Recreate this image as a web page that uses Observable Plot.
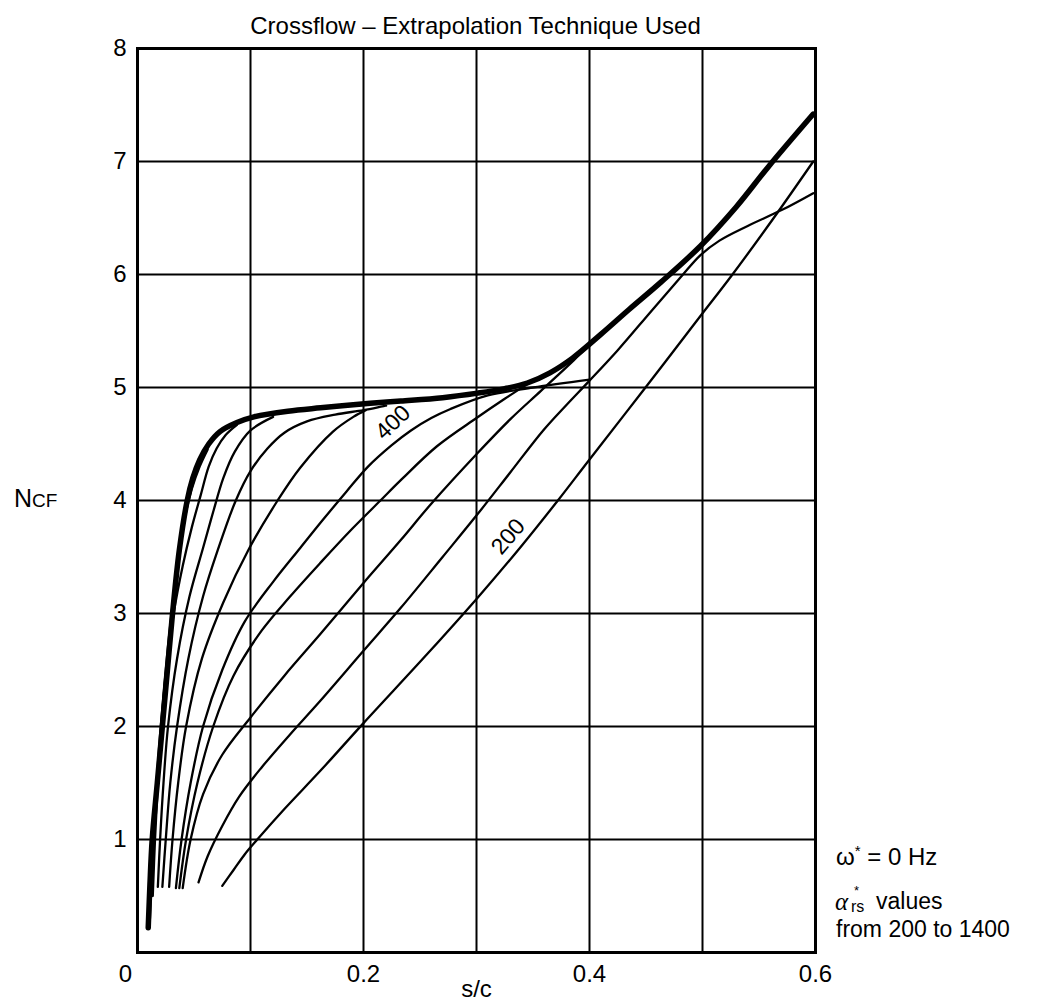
<!DOCTYPE html>
<html><head><meta charset="utf-8">
<script src="https://cdn.jsdelivr.net/npm/d3@7"></script>
<script src="https://cdn.jsdelivr.net/npm/@observablehq/plot@0.6"></script>
<style>
body{margin:0;background:#fff;font-family:"Liberation Sans",Arial,Helvetica,sans-serif;}
#wrap{position:relative;width:1038px;height:1007px;overflow:hidden;}
#wrap svg{position:absolute;left:0;top:0;}
.t{position:absolute;color:#000;white-space:nowrap;}
</style></head><body>
<div id="wrap">
  <div class="t" style="left:0;width:951px;text-align:center;top:14px;font-size:24px;line-height:24px;">Crossflow – Extrapolation Technique Used</div>
  <div class="t" style="left:14px;top:486px;font-size:25px;line-height:25px;">N<span style="font-size:19px;">CF</span></div>
  <div class="t" style="left:836px;top:845px;font-size:24px;line-height:24px;">ω<span style="font-size:15px;position:relative;top:-9px;">*</span> = 0 Hz</div>
  <div class="t" style="left:835px;top:889px;font-size:25px;line-height:25px;font-family:'Liberation Serif',serif;font-style:italic;">α</div>
  <div class="t" style="left:854px;top:884px;font-size:13px;line-height:13px;">*</div>
  <div class="t" style="left:851px;top:899px;font-size:16px;line-height:16px;">rs</div>
  <div class="t" style="left:876px;top:890px;font-size:23px;line-height:23px;">values</div>
  <div class="t" style="left:836px;top:918px;font-size:23px;line-height:23px;">from 200 to 1400</div>
</div>
<script>
// axis ticks and grid
const xTickVals = [0.2, 0.4, 0.6];
const xOriginTick = [0];
const yTickVals = [1, 2, 3, 4, 5, 6, 7, 8];
const xGridVals = [0.1, 0.2, 0.3, 0.4, 0.5];
const yGridVals = [1, 2, 3, 4, 5, 6, 7];

// envelope (thick curve), [s/c, N]
const envelope = [[0.0095,0.22],[0.011,0.6],[0.013,1.0],[0.0175,1.5],[0.022,2.0],[0.0265,2.5],[0.031,3.0],[0.037,3.56],[0.044,4.0],[0.049,4.2],[0.055,4.36],[0.063,4.5],[0.073,4.61],[0.088,4.69],[0.103,4.74],[0.133,4.79],[0.162,4.82],[0.206,4.86],[0.233,4.88],[0.27,4.91],[0.301,4.95],[0.325,4.99],[0.345,5.04],[0.365,5.13],[0.385,5.26],[0.41,5.47],[0.435,5.69],[0.463,5.93],[0.498,6.25],[0.53,6.6],[0.558,6.95],[0.598,7.42]];

// individual alpha*_rs curves, [s/c, N]
const curveBundle = [[0.011,0.3],[0.0125,0.7],[0.015,1.2],[0.019,1.8],[0.024,2.4],[0.029,2.9],[0.035,3.4],[0.042,3.85],[0.048,4.1],[0.055,4.3],[0.062,4.45]];
const curveA = [[0.0135,0.5],[0.0155,1.0],[0.018,1.5],[0.021,2.0],[0.026,2.55],[0.032,3.0],[0.040,3.42],[0.048,3.76],[0.056,4.05],[0.063,4.3],[0.07,4.46],[0.078,4.58],[0.088,4.67]];
const curveB = [[0.018,0.58],[0.020,1.0],[0.023,1.5],[0.027,2.0],[0.035,2.6],[0.046,3.15],[0.058,3.58],[0.067,3.9],[0.076,4.2],[0.086,4.43],[0.1,4.62],[0.12,4.74]];
const curveC = [[0.022,0.58],[0.025,1.0],[0.029,1.5],[0.035,2.0],[0.045,2.6],[0.058,3.15],[0.071,3.56],[0.087,4.0],[0.1,4.26],[0.115,4.46],[0.13,4.6],[0.15,4.7],[0.175,4.76],[0.2,4.8],[0.22,4.84]];
const curveD = [[0.028,0.58],[0.031,1.0],[0.036,1.5],[0.043,2.0],[0.057,2.6],[0.076,3.1],[0.098,3.56],[0.124,4.0],[0.144,4.29],[0.173,4.61],[0.191,4.74],[0.202,4.8]];
const curve400 = [[0.034,0.57],[0.039,1.0],[0.047,1.5],[0.058,2.0],[0.075,2.5],[0.095,2.93],[0.12,3.28],[0.144,3.58],[0.165,3.84],[0.185,4.08],[0.204,4.3],[0.225,4.49],[0.242,4.62],[0.26,4.73],[0.277,4.81],[0.31,4.93],[0.35,5.0],[0.4,5.07]];
const curveX = [[0.037,0.57],[0.043,1.0],[0.053,1.5],[0.067,2.0],[0.085,2.45],[0.11,2.85],[0.135,3.15],[0.162,3.45],[0.19,3.75],[0.215,4.0],[0.233,4.18],[0.265,4.48],[0.3,4.73],[0.325,4.9],[0.345,5.03]];
const curveF = [[0.040,0.57],[0.047,1.0],[0.058,1.4],[0.075,1.75],[0.1,2.08],[0.13,2.45],[0.162,2.82],[0.2,3.27],[0.233,3.65],[0.259,3.96],[0.301,4.42],[0.33,4.72],[0.357,4.97],[0.386,5.24],[0.40,5.38]];
const curveG = [[0.054,0.62],[0.062,0.85],[0.075,1.12],[0.09,1.38],[0.11,1.64],[0.135,1.93],[0.162,2.23],[0.2,2.67],[0.233,3.05],[0.27,3.5],[0.301,3.88],[0.33,4.25],[0.359,4.62],[0.38,4.85],[0.399,5.05],[0.425,5.33],[0.455,5.68],[0.481,5.98],[0.498,6.17],[0.515,6.3],[0.54,6.43],[0.57,6.57],[0.598,6.72]];
const curve200 = [[0.075,0.59],[0.085,0.73],[0.095,0.87],[0.106,1.0],[0.13,1.27],[0.162,1.61],[0.2,2.03],[0.259,2.67],[0.301,3.14],[0.34,3.6],[0.372,4.0],[0.399,4.35],[0.448,4.98],[0.498,5.63],[0.525,5.98],[0.563,6.5],[0.598,7.0]];

// curve labels
const curveLabels = [
  {x: 0.328, y: 3.68, text: "200", rotate: -50},
  {x: 0.226, y: 4.69, text: "400", rotate: -43}
];

const thinCurves = [curveBundle, curveA, curveB, curveC, curveD, curve400, curveX, curveF, curveG, curve200];
const thinRows = thinCurves.flatMap((c, i) => c.map(([x, y]) => ({x, y, id: i})));
const envRows = envelope.map(([x, y]) => ({x, y}));

const chart = Plot.plot({
  width: 1038,
  height: 1007,
  marginLeft: 137,
  marginRight: 223,
  marginTop: 48,
  marginBottom: 55,
  style: {fontFamily: '"Liberation Sans", Arial, sans-serif', fontSize: "24px", color: "#000", background: "transparent"},
  x: {domain: [0, 0.6]},
  y: {domain: [0, 8]},
  marks: [
    Plot.ruleX(xGridVals, {stroke: "#000", strokeWidth: 2}),
    Plot.ruleY(yGridVals, {stroke: "#000", strokeWidth: 2}),
    Plot.line(thinRows, {x: "x", y: "y", z: "id", stroke: "#000", strokeWidth: 2.3, curve: "catmull-rom", strokeLinejoin: "round"}),
    Plot.line(envRows, {x: "x", y: "y", stroke: "#000", strokeWidth: 5.5, curve: "catmull-rom", strokeLinejoin: "round", strokeLinecap: "round"}),
    Plot.text(curveLabels, {x: "x", y: "y", text: "text", rotate: "rotate", fontSize: 23, fill: "#000"}),
    Plot.frame({stroke: "#000", strokeWidth: 3}),
    Plot.axisX(xTickVals, {tickSize: 0, tickPadding: 12, fontSize: 24, label: null, tickFormat: d => String(d)}),
    Plot.axisX(xOriginTick, {tickSize: 0, tickPadding: 12, fontSize: 24, label: null, dx: -12, tickFormat: d => String(d)}),
    Plot.axisY(yTickVals, {tickSize: 0, tickPadding: 11, fontSize: 24, label: null, tickFormat: d => String(d)}),
    Plot.text(["s/c"], {frameAnchor: "bottom", dy: 44, fontSize: 24, fill: "#000"})
  ]
});
document.getElementById("wrap").prepend(chart);
</script>
</body></html>
